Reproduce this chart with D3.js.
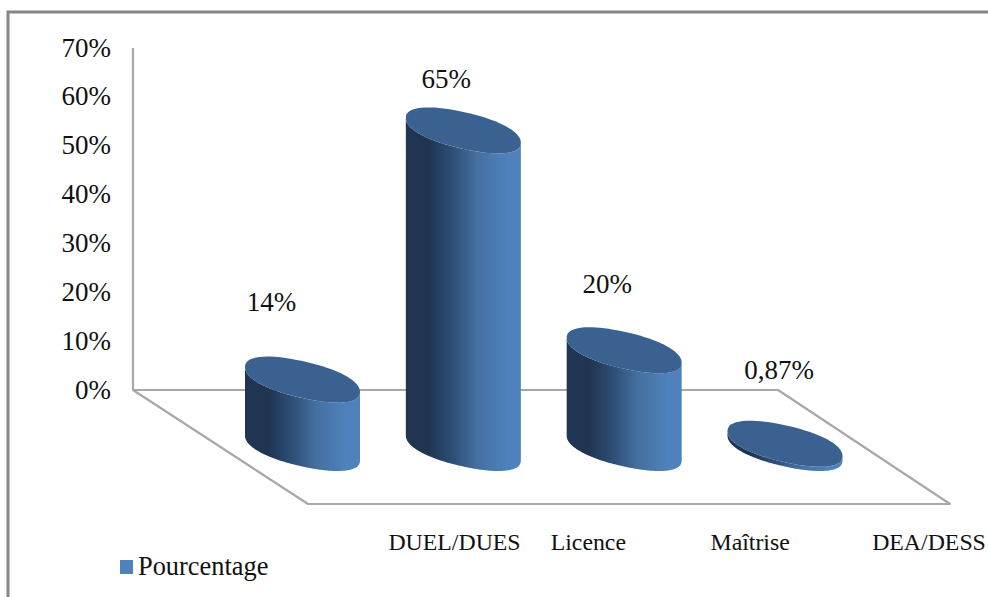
<!DOCTYPE html>
<html>
<head>
<meta charset="utf-8">
<script src="https://cdn.jsdelivr.net/npm/d3@7"></script>
<style>
html,body{margin:0;padding:0;background:#fff}
svg{display:block}
text{font-family:"Liberation Serif",serif;fill:#111}
</style>
</head>
<body>
<svg id="chart" width="988" height="597"></svg>
<script>
// Chart values
const categories = ["DUEL/DUES", "Licence", "Maîtrise", "DEA/DESS"];
const percentages = [14, 65, 20, 0.87];
const valueLabels = ["14%", "65%", "20%", "0,87%"];
const yTicks = [0, 10, 20, 30, 40, 50, 60, 70];
const seriesName = "Pourcentage";

// Layout of the 3D box
const wallX = 133, floorBackY = 390, wallTopY = 48;
const floorBackRight = 778, floorFrontLeft = 308, floorFrontRight = 950, floorFrontY = 504;
const baseCentreY = 448;
const radiusX = 57.5, radiusV = 18.5, skewY = 12.5;
const roundness = 0.9;
// Horizontal offsets of the category captions from each cylinder's centre
const captionOffsets = [152, 125, 126, 144];
// Offsets of the value captions from each cylinder's top centre
const valueLabelPos = [[-31, -69], [-17, -42], [-17, -57], [-6, -65]];

const svg = d3.select("#chart");

const y = d3.scaleLinear().domain([0, 70]).range([floorBackY, wallTopY]);
const h = d => y(0) - y(d);
const x = d3.scalePoint().domain(categories).range([302.5, 785]);

const defs = svg.append("defs");
const grad = defs.append("linearGradient").attr("id", "side").attr("x1", 0).attr("x2", 1).attr("y1", 0).attr("y2", 0);
[[0, "#1f3552"], [0.2, "#1f3552"], [0.42, "#2f5078"], [0.62, "#44709f"], [0.88, "#4f81bd"], [1, "#4f81bd"]]
  .forEach(([o, c]) => grad.append("stop").attr("offset", o).attr("stop-color", c));

// Outer frame, open towards the right and bottom edges
svg.append("path").attr("d", "M8,597V12H988").attr("fill", "none").attr("stroke", "#868686").attr("stroke-width", 3);

// Wall line and floor outline
const line = d3.line();
svg.append("path")
  .attr("d", line([[wallX, wallTopY], [wallX, floorBackY], [floorBackRight, floorBackY], [floorFrontRight, floorFrontY], [floorFrontLeft, floorFrontY], [wallX, floorBackY]]))
  .attr("fill", "none").attr("stroke", "#a8a8a8").attr("stroke-width", 2.2).attr("stroke-linejoin", "round");

// Value axis, labels only
const axis = d3.axisLeft(y).tickValues(yTicks).tickFormat(d => d + "%").tickSize(0).tickPadding(0);
const axisG = svg.append("g").attr("transform", "translate(111,0)").call(axis);
axisG.select(".domain").remove();
axisG.selectAll("text").attr("font-size", 27).attr("dy", "0.3em").style("font-family", '"Liberation Serif",serif').attr("fill", "#111");

// Rounded, sheared ellipse outline sampled from angle a0 to a1
const spow = v => Math.sign(v) * Math.pow(Math.abs(v), roundness);
const ellipsePts = (cx, cy, a0, a1) => d3.range(0, 81).map(i => {
  const t = a0 + (a1 - a0) * i / 80;
  const u = spow(Math.cos(t)), v = spow(Math.sin(t));
  return [cx + radiusX * u, cy + skewY * u + radiusV * v];
});

const bars = svg.append("g").selectAll("g").data(percentages).join("g");

bars.append("path")
  .attr("fill", "url(#side)")
  .attr("d", (d, i) => {
    const cx = x(categories[i]);
    const base = ellipsePts(cx, baseCentreY, 0, Math.PI);
    const top = ellipsePts(cx, baseCentreY - h(d), Math.PI, 0);
    return line(base.concat(top)) + "Z";
  });

bars.append("path")
  .attr("fill", "#3b6190")
  .attr("d", (d, i) => line(ellipsePts(x(categories[i]), baseCentreY - h(d), 0, 2 * Math.PI)) + "Z");

// Value captions
bars.append("text")
  .attr("text-anchor", "middle")
  .attr("font-size", 27)
  .attr("x", (d, i) => x(categories[i]) + valueLabelPos[i][0])
  .attr("y", (d, i) => baseCentreY - h(d) + valueLabelPos[i][1])
  .text((d, i) => valueLabels[i]);

// Category captions
svg.append("g").selectAll("text").data(categories).join("text")
  .attr("text-anchor", "middle")
  .attr("font-size", 23.8)
  .attr("x", (d, i) => x(d) + captionOffsets[i])
  .attr("y", 550)
  .text(d => d);

// Legend
svg.append("rect").attr("x", 120).attr("y", 560).attr("width", 13).attr("height", 14).attr("fill", "#4f81bd");
svg.append("text").attr("x", 138).attr("y", 575).attr("font-size", 26.4).text(seriesName);
</script>
</body>
</html>
